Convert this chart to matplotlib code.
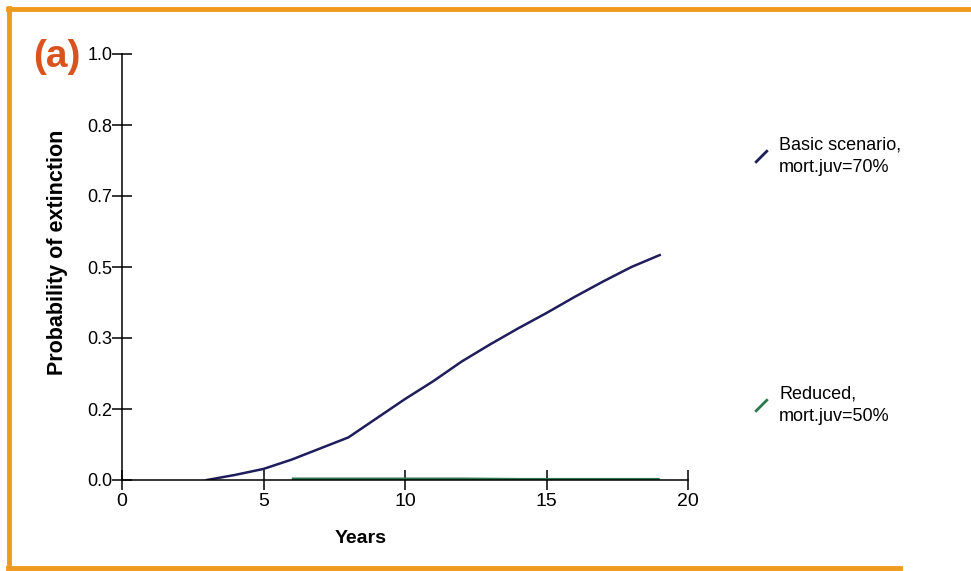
import matplotlib
matplotlib.use('Agg')
import matplotlib.pyplot as plt
from matplotlib.lines import Line2D
import numpy as np

# data
years_basic = [3, 4, 5, 6, 7, 8, 9, 10, 11, 12, 13, 14, 15, 16, 17, 18, 19]
prob_basic = [0.0, 0.012, 0.026, 0.048, 0.074, 0.10, 0.145, 0.19, 0.232, 0.278, 0.318, 0.356, 0.392, 0.43, 0.466, 0.50, 0.528]
years_reduced = [6, 8, 10, 12, 14, 16, 18, 19]
prob_reduced = [0.001, 0.001, 0.001, 0.001, 0.0, 0.0, 0.0, 0.0]

yticks = [0, 1/6, 2/6, 3/6, 4/6, 5/6, 1.0]
xticks = [0, 5, 10, 15, 20]

labels = ['Basic scenario,\nmort.juv=70%', 'Reduced,\nmort.juv=50%']
c_basic = '#1f1d5c'
c_red = '#2b7a4e'
orange = '#ef9a1e'

plt.rcParams['font.family'] = ['Liberation Sans', 'DejaVu Sans']

fig = plt.figure(figsize=(9.71, 5.71), dpi=100)
ax = fig.add_axes([122/971, 1-480/571, (688-122)/971, (480-54)/571])

ax.plot(years_reduced, prob_reduced, color=c_red, lw=3, solid_capstyle='butt')
ax.plot(years_basic, prob_basic, color=c_basic, lw=1.8)

ax.set_xlim(0, 20)
ax.set_ylim(0, 1)
ax.set_xticks(xticks)
ax.set_yticks(yticks)
ax.set_yticklabels(['%.1f' % v for v in yticks])
ax.spines['top'].set_visible(False)
ax.spines['right'].set_visible(False)
ax.spines['left'].set_linewidth(1.1)
ax.spines['bottom'].set_linewidth(1.1)
ax.tick_params(direction='inout', length=14, width=1.1, labelsize=13, pad=0)
ax.tick_params(axis='x', pad=2)
for t in ax.get_xticklabels():
    t.set_fontsize(14)

ax.set_xlabel('Years', fontsize=14, fontweight='bold')
ax.xaxis.set_label_coords(0.422, -0.118)
ax.set_ylabel('Probability of extinction', fontsize=15.5, fontweight='bold')
ax.yaxis.set_label_coords(-0.095, 0.535)

fig.text(33/971, 1-57/571, '(a)', color='#d9531e', fontsize=28, fontweight='bold', va='center')

# legend entries, one beside each line
for lab, col, ypos in [(labels[0], c_basic, 1-137/571), (labels[1], c_red, 1-386/571)]:
    h = Line2D([], [], color=col, linestyle='none', marker=[(-1, -1), (1, 1)],
               markersize=9, markeredgewidth=2, markeredgecolor=col)
    fig.legend(handles=[h], labels=[lab], loc='upper left', bbox_to_anchor=(754/971, ypos),
               frameon=False, fontsize=13, handlelength=0.8, handletextpad=0.6,
               borderaxespad=0, borderpad=0)
for leg in fig.legends:
    for t in leg.get_texts():
        t.set_linespacing(1.35)

# orange frame
fig.add_artist(Line2D([8/971, 1], [1-9/571, 1-9/571], color=orange, lw=3.5))
fig.add_artist(Line2D([9/971, 9/971], [1-8/571, 1-568/571], color=orange, lw=3.5))
fig.add_artist(Line2D([8/971, 900/971], [1-568/571, 1-568/571], color=orange, lw=3.5))

fig.savefig('out.png', dpi=100)
